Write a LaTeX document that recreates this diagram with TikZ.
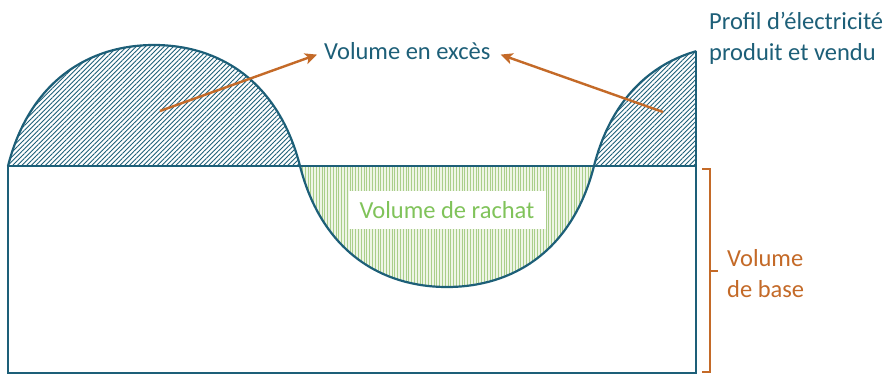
\documentclass[tikz,border=0pt]{standalone}
\usepackage{fontspec}
\setmainfont{Carlito}
\usetikzlibrary{patterns.meta,arrows.meta}
\definecolor{tealc}{HTML}{1D5F78}
\definecolor{orangec}{HTML}{C46A28}
\definecolor{greenc}{HTML}{80C35A}
\definecolor{greenl}{HTML}{A9CE8A}
\definecolor{greenbg}{HTML}{EEF5E6}
\tikzset{
  outline/.style={draw=tealc, line width=2.2pt},
  rectline/.style={draw=tealc, line width=1.5pt},
  hatchA/.style={pattern={Lines[angle=45,distance=3.3pt,line width=0.9pt]}, pattern color=tealc},
  hatchB/.style={pattern={Lines[angle=90,distance=2.8pt,line width=0.9pt]}, pattern color=greenl},
  txt/.style={font=\fontsize{24.5}{31}\selectfont, inner sep=0pt},
  arr/.style={draw=orangec, line width=2.4pt, -{Stealth[length=12pt,width=11pt,inset=3pt]}},
  brace/.style={draw=orangec, line width=2pt},
}
\def\humpA{(8,166) .. controls (30,80) and (90,45) .. (154,45) .. controls (218,45) and (278,80) .. (300,166)}
\def\humpB{(300,166) .. controls (322,252) and (382,287) .. (447,287) .. controls (512,287) and (572,252) .. (594,166)}
\def\humpC{(594,166) .. controls (616,80) and (676,45) .. (742,45)}
\begin{document}
\begin{tikzpicture}[x=1pt,y=-1pt]
\useasboundingbox[fill=white] (0,0) rectangle (889,374);
\begin{scope}
\clip (0,0) rectangle (696,374);
% fills
\fill[greenbg] \humpB -- cycle;
\fill[hatchB] \humpB -- cycle;
\fill[hatchA] \humpA -- cycle;
\fill[hatchA] \humpC -- (742,166) -- cycle;
% curve
\draw[outline, line join=round] \humpA -- \humpB -- \humpC;
\end{scope}
% rectangle
\draw[rectline] (8,166) rectangle (696,373);
\draw[rectline] (696,166) -- (696,51);
\draw[outline] (8,166) -- (696,166);
% texts
\node[txt, text=tealc, anchor=base west] (ex) at (324,60) {Volume en excès};
\node[txt, text=tealc, anchor=base west, align=left] (prof) at (709,61) {Profil d’électricité\\produit et vendu};
\node[txt, text=greenc, fill=white, minimum width=197pt, minimum height=38pt] (rach) at (447,210) {Volume de rachat};
\node[txt, text=orangec, anchor=base west, align=left] (base) at (727,297) {Volume\\de base};
% arrows
\coordinate (s1) at (160,111);
\coordinate (s2) at (663,112);
\draw[arr] (s1) -- ([xshift=-7pt,yshift=-3pt]ex.west);
\draw[arr] (s2) -- ([xshift=10pt,yshift=-3pt]ex.east);
% brace
\coordinate (b1) at (702,169);
\coordinate (b2) at (702,372);
\draw[brace] (b1) -- (710,169) -- (710,372) -- (b2);
\draw[brace] (710,271) -- (718,271);
\end{tikzpicture}
\end{document}
